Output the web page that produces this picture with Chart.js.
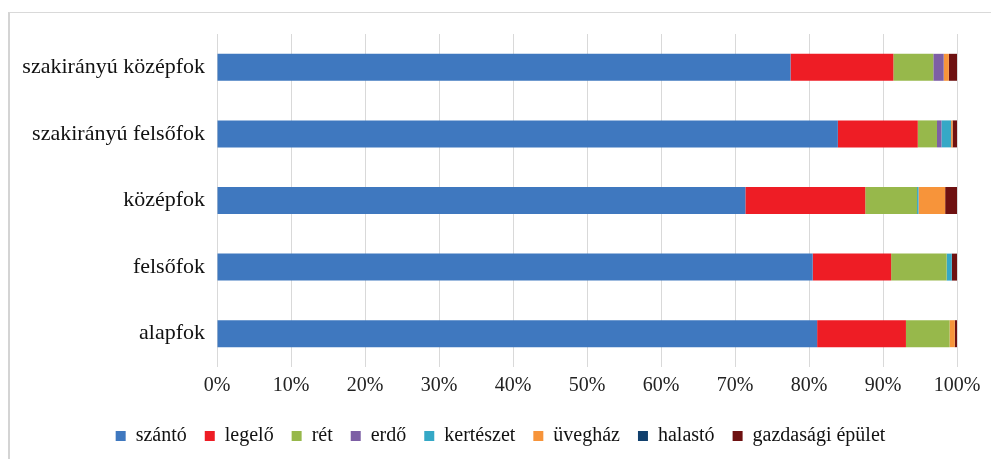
<!DOCTYPE html>
<html>
<head>
<meta charset="utf-8">
<script src="https://cdn.jsdelivr.net/npm/chart.js@4"></script>
<style>
  body { margin: 0; background: #fff; }
  #frame { position: absolute; left: 8px; top: 12px; width: 983px; height: 447px;
           border-left: 2px solid #d4d4d4; border-top: 1px solid #d9d9d9; box-sizing: border-box; }
  #wrap { position: absolute; left: 0; top: 0; width: 991px; height: 459px; }
</style>
</head>
<body>
<div id="frame"></div>
<div id="wrap"><canvas id="chartWrapper"></canvas></div>
<script>
// categories, top to bottom
var categories = ["szakirányú középfok", "szakirányú felsőfok", "középfok", "felsőfok", "alapfok"];

// shares in %, one array per land use
var szanto     = [77.5, 83.9, 71.4, 80.5, 81.1];
var legelo     = [13.9, 10.8, 16.2, 10.6, 12.0];
var ret        = [5.4, 2.6, 7.0, 7.5, 5.9];
var erdo       = [1.4, 0.6, 0.0, 0.0, 0.0];
var kerteszet  = [0.0, 1.3, 0.2, 0.7, 0.0];
var uveghaz    = [0.7, 0.2, 3.6, 0.0, 0.7];
var halasto    = [0.0, 0.0, 0.0, 0.0, 0.0];
var gazdasagi  = [1.1, 0.6, 1.6, 0.7, 0.3];

var xTicks = [0, 10, 20, 30, 40, 50, 60, 70, 80, 90, 100];

var serif = "'Liberation Serif', 'Times New Roman', serif";

function ds(label, data, color) {
  return { label: label, data: data, backgroundColor: color, borderColor: color, borderWidth: 0 };
}

// the legend sits a little right of centre in the original
const legendShift = {
  id: "legendShift",
  afterLayout(chart) {
    if (!chart.legend) return;
    chart.legend.left += 22;
    chart.legend.right += 22;
  },
};

new Chart(document.getElementById("chartWrapper"), {
  type: "bar",
  data: {
    labels: categories,
    datasets: [
      ds("szántó", szanto, "#3F78BF"),
      ds("legelő", legelo, "#EE1D25"),
      ds("rét", ret, "#97B84B"),
      ds("erdő", erdo, "#7D5FA5"),
      ds("kertészet", kerteszet, "#35A8C6"),
      ds("üvegház", uveghaz, "#F7943A"),
      ds("halastó", halasto, "#11406D"),
      ds("gazdasági épület", gazdasagi, "#6E1111"),
    ],
  },
  plugins: [legendShift],
  options: {
    indexAxis: "y",
    responsive: true,
    maintainAspectRatio: false,
    animation: false,
    layout: { padding: { top: 34, right: 34, left: 0, bottom: 3 } },
    datasets: { bar: { categoryPercentage: 1, barPercentage: 0.405 } },
    scales: {
      x: {
        stacked: true,
        min: 0,
        max: 100,
        afterBuildTicks: (scale) => { scale.ticks = xTicks.map((v) => ({ value: v })); },
        afterFit: (scale) => { scale.height = 41; },
        ticks: {
          callback: (v) => v + "%",
          color: "#222",
          font: { family: serif, size: 20 },
          padding: 7,
          maxRotation: 0,
        },
        grid: { color: "#d9d9d9", drawTicks: false },
        border: { display: false },
      },
      y: {
        stacked: true,
        afterFit: (scale) => { scale.width = 217; },
        ticks: { color: "#111", font: { family: serif, size: 22 }, padding: 12 },
        grid: { display: false, drawTicks: false },
        border: { display: false },
      },
    },
    plugins: {
      legend: {
        position: "bottom",
        labels: {
          boxWidth: 10,
          boxHeight: 10,
          padding: 18,
          color: "#111",
          font: { family: serif, size: 20 },
        },
      },
      tooltip: { enabled: false },
    },
  },
});
</script>
</body>
</html>
